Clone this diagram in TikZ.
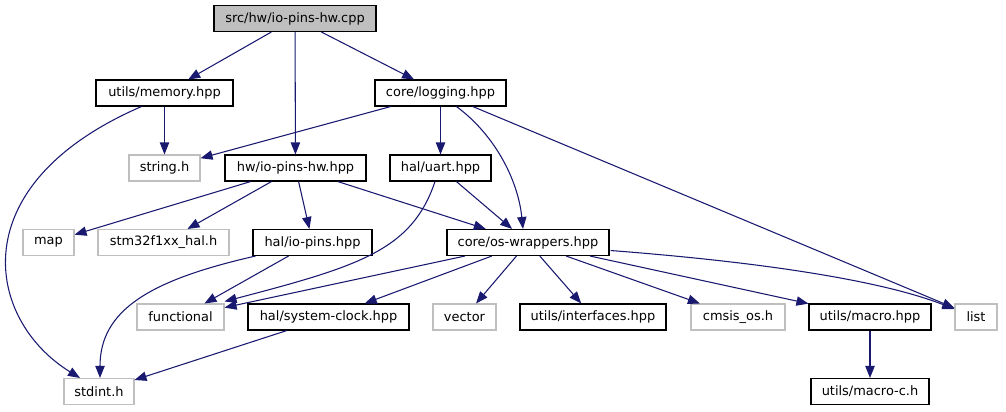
\documentclass[tikz,border=0pt]{standalone}
\usepackage{fontspec}
\setmainfont{DejaVu Sans}
\definecolor{edgeblue}{RGB}{25,25,112}
\definecolor{extgray}{RGB}{191,191,191}
\usetikzlibrary{arrows.meta,calc}

\begin{document}
\begin{tikzpicture}[x=0.75pt, y=-0.75pt,
    every node/.style={font=\fontsize{9.7}{11}\selectfont, inner sep=0pt, minimum height=19.5pt},
    hdr/.style={draw=black, fill=white, line width=0.8pt},
    sys/.style={draw=extgray, fill=white, line width=0.8pt},
    root/.style={draw=black, fill=extgray, line width=0.8pt},
    dep/.style={draw=edgeblue, line width=0.8pt, -{Triangle[length=9pt,width=7pt]}}]
        \useasboundingbox (0,0) rectangle (1006,411);

        % Root file
        \node[root, minimum width=121.5pt] (cpp) at (295,18.5) {src/hw/io-pins-hw.cpp};

        % Second row
        \node[hdr, minimum width=102.75pt] (memory) at (164.5,93) {utils/memory.hpp};
        \node[hdr, minimum width=98.25pt] (logging) at (440.5,93) {core/logging.hpp};

        % Third row
        \node[sys, minimum width=53.25pt] (stringh) at (164.5,168) {string.h};
        \node[hdr, minimum width=105.75pt] (iopinshw) at (295.5,168) {hw/io-pins-hw.hpp};
        \node[hdr, minimum width=75.75pt] (uart) at (440.5,168) {hal/uart.hpp};

        % Fourth row
        \node[sys, minimum width=38.25pt] (map) at (48.5,242.5) {map};
        \node[sys, minimum width=98.25pt] (stmhal) at (163.5,242.5) {stm32f1xx\_hal.h};
        \node[hdr, minimum width=89.25pt] (iopins) at (312.5,242.5) {hal/io-pins.hpp};
        \node[hdr, minimum width=121.5pt] (oswrap) at (528,242.5) {core/os-wrappers.hpp};

        % Fifth row
        \node[sys, minimum width=65.25pt] (functional) at (180.5,317) {functional};
        \node[hdr, minimum width=120.75pt] (sysclock) at (328.5,317) {hal/system-clock.hpp};
        \node[sys, minimum width=47.25pt] (vector) at (464.5,317) {vector};
        \node[hdr, minimum width=109.5pt] (interfaces) at (593,317) {utils/interfaces.hpp};
        \node[sys, minimum width=70.5pt] (cmsis) at (738,317) {cmsis\_os.h};
        \node[hdr, minimum width=91.5pt] (macro) at (870,317) {utils/macro.hpp};
        \node[sys, minimum width=31.5pt] (list) at (976,317) {list};

        % Last row
        \node[sys, minimum width=52.5pt] (stdint) at (99,391.5) {stdint.h};
        \node[hdr, minimum width=88.5pt] (macroc) at (870,391.5) {utils/macro-c.h};

        % Includes of the root file
        \draw[dep] (cpp) -- (memory);
        \draw[dep] (cpp) -- (iopinshw);
        \draw[dep] (cpp) -- (logging);

        % utils/memory.hpp
        \draw[dep] (memory) -- (stringh);
        \draw[dep] ($(memory.south)+(-23,0)$) .. controls (-40,185) and (-14,320) .. ($(stdint.north)+(-19,0)$);

        % core/logging.hpp
        \draw[dep] (logging) -- (stringh);
        \draw[dep] (logging) -- (uart);
        \draw[dep] ($(logging.south)+(16,0)$) .. controls (495,135) and (518,180) .. ($(oswrap.north)+(-5,0)$);
        \draw[dep] (logging) -- (list);

        % hw/io-pins-hw.hpp
        \draw[dep] (iopinshw) -- (map);
        \draw[dep] (iopinshw) -- (stmhal);
        \draw[dep] (iopinshw) -- (iopins);
        \draw[dep] (iopinshw) -- (oswrap);

        % hal/uart.hpp
        \draw[dep] (uart) -- (oswrap);
        \draw[dep] ($(uart.south)+(-5.5,0)$) .. controls (412,250) and (360,266) .. ($(functional.north east)+(0,-2)$);

        % hal/io-pins.hpp
        \draw[dep] (iopins) -- (functional);
        \draw[dep] ($(iopins.south west)+(3,0)$) .. controls (150,280) and (100,310) .. ($(stdint.north)+(1,0)$);

        % core/os-wrappers.hpp
        \draw[dep] (oswrap) -- (functional);
        \draw[dep] (oswrap) -- (sysclock);
        \draw[dep] (oswrap) -- (vector);
        \draw[dep] (oswrap) -- (interfaces);
        \draw[dep] (oswrap) -- (cmsis);
        \draw[dep] (oswrap) -- (macro);
        \draw[dep] ($(oswrap.east)+(1,8)$) .. controls (760,262) and (880,280) .. ($(list.west)+(0,-8)$);

        % the rest
        \draw[dep] (macro) -- (macroc);
        \draw[dep] (sysclock) -- (stdint);
\end{tikzpicture}
\end{document}
